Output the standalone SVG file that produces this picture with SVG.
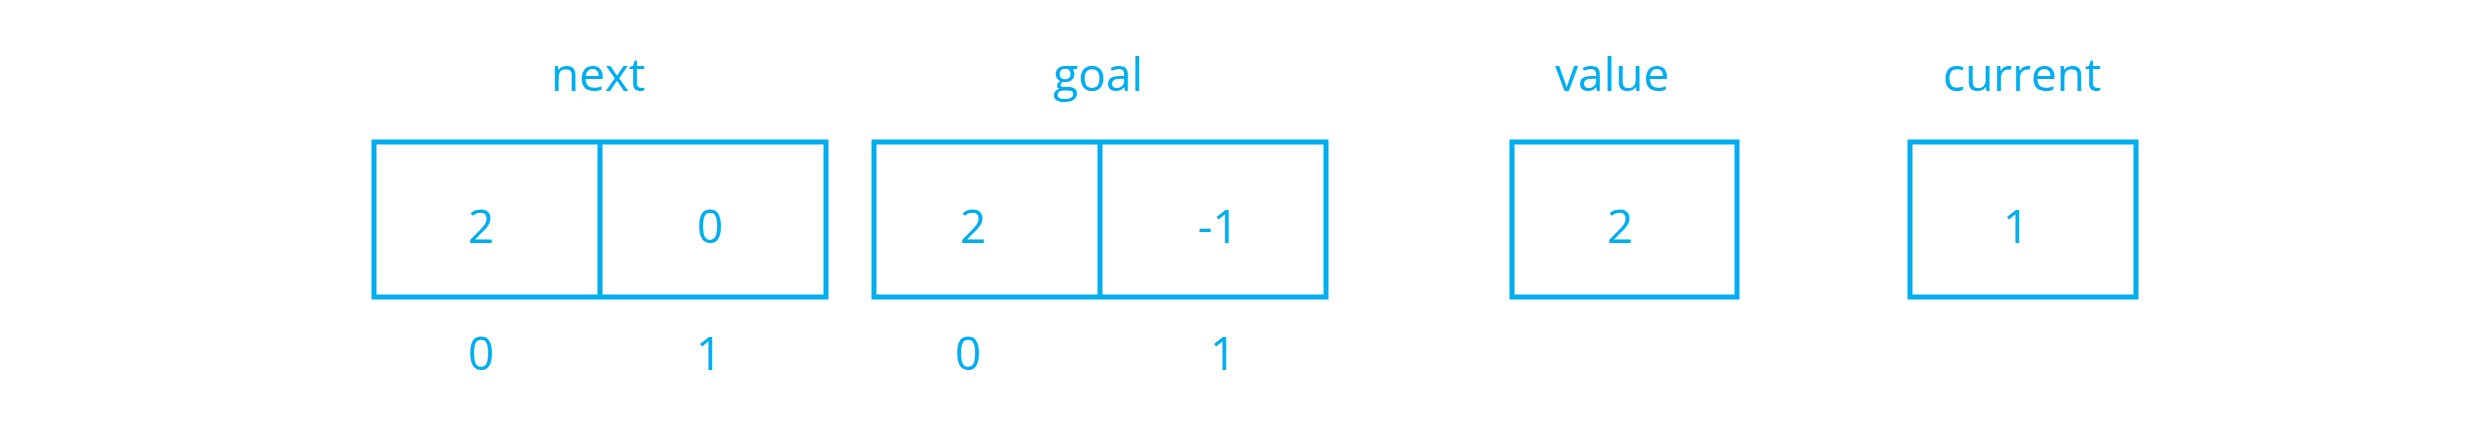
<svg xmlns="http://www.w3.org/2000/svg" width="2481" height="436" viewBox="0 0 2481 436">
<style>
text{font-family:"Open Sans","Liberation Sans",sans-serif;font-size:46px;fill:#00AEEF;text-anchor:middle}
.b{fill:none;stroke:#00AEEF;stroke-width:5}
</style>
<rect width="2481" height="436" fill="#fff"/>
<g id="next">
<text x="598" y="91">next</text>
<rect class="b" x="374" y="142" width="452" height="155"/>
<line class="b" x1="600" y1="142" x2="600" y2="297"/>
<text x="481" y="243">2</text><text x="710" y="243">0</text>
<text x="481" y="370">0</text><text x="709" y="370">1</text>
</g>
<g id="goal">
<text x="1098" y="91">goal</text>
<rect class="b" x="874" y="142" width="452" height="155"/>
<line class="b" x1="1100" y1="142" x2="1100" y2="297"/>
<text x="973" y="243">2</text><text x="1218" y="243">-1</text>
<text x="968" y="370">0</text><text x="1223" y="370">1</text>
</g>
<g id="value">
<text x="1612" y="91">value</text>
<rect class="b" x="1512" y="142" width="225" height="155"/>
<text x="1620" y="243">2</text>
</g>
<g id="current">
<text x="2022" y="91">current</text>
<rect class="b" x="1910" y="142" width="226" height="155"/>
<text x="2016" y="243">1</text>
</g>
<g id="connectors"/>
</svg>
